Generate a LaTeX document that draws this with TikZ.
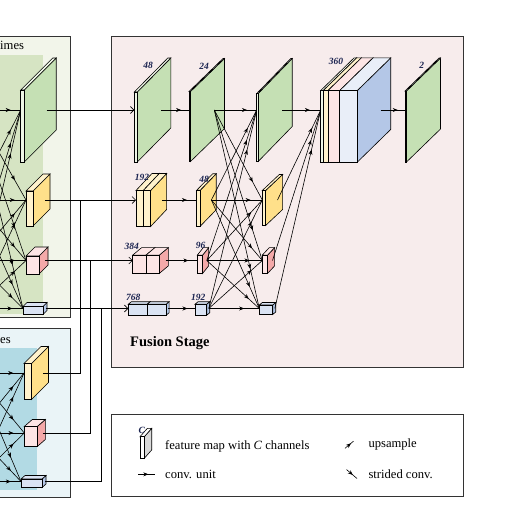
\documentclass[tikz,border=0pt]{standalone}
\usepackage{fontspec}
\setmainfont{Liberation Serif}
\usetikzlibrary{arrows.meta,decorations.markings}

\definecolor{fusebg}{HTML}{F7ECEC}
\definecolor{greenbg}{HTML}{F2F5EA}
\definecolor{greendk}{HTML}{D6E4C3}
\definecolor{bluebg}{HTML}{EAF4F7}
\definecolor{bluedk}{HTML}{B2DAE4}
\definecolor{gside}{HTML}{C5E0B4}
\definecolor{gfront}{HTML}{EEF5E6}
\definecolor{yside}{HTML}{FFE08A}
\definecolor{yfront}{HTML}{FFF2CC}
\definecolor{pside}{HTML}{F4A9A9}
\definecolor{pfront}{HTML}{FDE5E5}
\definecolor{bside}{HTML}{B4C7E7}
\definecolor{bfront}{HTML}{DAE3F3}
\definecolor{keyside}{HTML}{D9D9D9}
\definecolor{numcol}{HTML}{1A2350}
\definecolor{boxline}{HTML}{333333}

\tikzset{
  conn/.style={line width=0.6pt},
  midarr/.style={postaction={decorate},decoration={markings,
      mark=at position #1 with {\arrow{Stealth[length=5pt,width=4pt]}}}},
  midarr/.default=0.72,
  inarrow/.style={-{Straight Barb[length=3.5pt,width=7pt]}},
  chan/.style={font=\fontsize{9.5}{11}\selectfont\bfseries\itshape,text=numcol,inner sep=0pt},
  stagebox/.style={draw=boxline,line width=0.9pt},
  legtext/.style={font=\fontsize{12.6}{14}\selectfont,anchor=base west,inner sep=0pt}
}

% feature map: name, x, level, width, height, dx, dy, front, side
\newcommand{\fmap}[9]{%
  \begin{scope}[shift={(#2,#3)}]
    \pgfmathsetmacro\fmtop{-(#5-#7)/2}
    \filldraw[fill=#9,line width=0.6pt] (#4,\fmtop) -- ++(#6,-#7) -- ++(0,#5) -- ++(-#6,#7) -- cycle;
    \filldraw[fill=#8,line width=0.6pt] (0,\fmtop) -- ++(#6,-#7) -- ++(#4,0) -- ++(-#6,#7) -- cycle;
    \filldraw[fill=#8,line width=0.6pt] (0,\fmtop) rectangle ++(#4,#5);
    \coordinate (#1-in) at (0,0);
    \coordinate (#1-out) at ({#4+0.7*#6},0);
  \end{scope}}

\begin{document}
\begin{tikzpicture}[x=1pt,y=-1pt]
	\useasboundingbox (0,0) rectangle (508,506);
	\clip (0,0) rectangle (508,506);

	% stage boxes
	\filldraw[stagebox,fill=greenbg] (-5,36) rectangle (70,317);
	\fill[greendk] (-5,55) rectangle (43,314);
	\filldraw[stagebox,fill=bluebg] (-5,328) rectangle (70,497);
	\fill[bluedk] (-5,348) rectangle (37,490);
	\filldraw[stagebox,fill=fusebg] (111.5,36) rectangle (463.5,367);
	\filldraw[stagebox,fill=white] (111.5,414) rectangle (463,496);
	\node[legtext] (tl) at (0,49.5) {imes};
	\node[legtext] (bl) at (0,343.5) {es};
	\node[legtext,font=\fontsize{14.5}{16}\selectfont\bfseries] (fs) at (130,346) {Fusion Stage};

	% previous stage, four branches
	\fmap{lg}{20.7}{110}{3.5}{72}{32}{32}{gfront}{gside}
	\fmap{ly}{26}{200}{7}{35}{17}{17}{yfront}{yside}
	\fmap{lp}{26}{260.5}{13}{18}{9}{9}{pfront}{pside}
	\fmap{lb}{23}{308.5}{20}{8}{4}{4}{bfront}{bside}
	\coordinate (lsrc1) at (-25,110);
	\coordinate (lsrc2) at (-25,200);
	\coordinate (lsrc3) at (-25,260.5);
	\coordinate (lsrc4) at (-25,308.5);
	\foreach \s in {1,2,3,4}
	  \foreach \t in {lg,ly,lp,lb}
	    \draw[conn,midarr=0.78] (lsrc\s) -- (\t-in);

	% previous stage, three branches
	\fmap{by}{24}{373}{7.5}{36}{17}{17}{yfront}{yside}
	\fmap{bp}{24.3}{433}{13}{20}{8}{7}{pfront}{pside}
	\fmap{bb}{21}{481.5}{21}{8.5}{4}{3.5}{bfront}{bside}
	\coordinate (bsrc1) at (-25,373);
	\coordinate (bsrc2) at (-25,433);
	\coordinate (bsrc3) at (-25,481.5);
	\foreach \s in {1,2,3}
	  \foreach \t in {by,bp,bb}
	    \draw[conn,midarr=0.78] (bsrc\s) -- (\t-in);

	% fusion stage, first column
	\fmap{g1}{134.3}{110}{3}{70}{33.5}{34}{gfront}{gside}
	\fmap{y1a}{136}{200}{7.3}{36}{16}{17}{yfront}{yside}
	\fmap{y1b}{143.3}{200}{7.3}{36}{16}{17}{yfront}{yside}
	\fmap{p1a}{132.7}{260.5}{13.3}{18.3}{9}{7.5}{pfront}{pside}
	\fmap{p1b}{146}{260.5}{13.3}{18.3}{9}{7.5}{pfront}{pside}
	\fmap{b1a}{128.3}{308.5}{18.9}{11}{3}{2.5}{bfront}{bside}
	\fmap{b1b}{147.2}{308.5}{18.9}{11}{3}{2.5}{bfront}{bside}
	% second column
	\fmap{g2}{189}{110}{1.5}{70}{34}{33}{gfront}{gside}
	\fmap{y2}{196.7}{200}{3.5}{36}{16}{16.5}{yfront}{yside}
	\fmap{p2}{197.3}{260.5}{5.3}{18.3}{6}{7.5}{pfront}{pside}
	\fmap{b2}{195}{308.5}{11.7}{11}{3}{2.5}{bfront}{bside}
	% third column
	\fmap{g3}{256.7}{110}{1.5}{68}{34}{35}{gfront}{gside}
	\fmap{y3}{262.3}{200}{3.3}{35}{17}{16}{yfront}{yside}
	\fmap{p3}{262.3}{260.5}{5.3}{18.3}{7}{7.5}{pfront}{pside}
	\fmap{b3}{259.3}{308.5}{13.4}{9.5}{3}{2.5}{bfront}{bside}
	% concatenation and output
	\fmap{ca}{320.7}{110}{2.6}{71.6}{33.4}{32.7}{gfront}{gside}
	\fmap{cb}{323.3}{110}{4.7}{71.6}{33.4}{32.7}{yfront}{yside}
	\fmap{cc}{328}{110}{11.7}{71.6}{33.4}{32.7}{pfront}{pside}
	\fmap{cd}{339.7}{110}{17.6}{71.6}{33.4}{32.7}{bfront!60!white}{bside}
	\fmap{g4}{405}{110}{1.5}{71}{34}{33}{gfront}{gside}

	% channel numbers
	\node[chan] (n48a) at (148,65) {48};
	\node[chan] (n24) at (204,66) {24};
	\node[chan] (n360) at (336,61.5) {360};
	\node[chan] (n2) at (421.7,65) {2};
	\node[chan] (n192a) at (142,177) {192};
	\node[chan] (n48b) at (204,179) {48};
	\node[chan] (n384) at (131.7,246) {384};
	\node[chan] (n96) at (200.7,245) {96};
	\node[chan] (n768) at (133.3,297.3) {768};
	\node[chan] (n192b) at (198.3,297.3) {192};

	% into the fusion stage
	\coordinate (j1) at (80,200);
	\coordinate (j2) at (90.7,260.5);
	\coordinate (j3) at (101.5,308.5);
	\draw[conn,inarrow] (lg-out) -- (g1-in);
	\draw[conn,inarrow] (ly-out) -- (y1a-in);
	\draw[conn,inarrow] (lp-out) -- (p1a-in);
	\draw[conn,inarrow] (lb-out) -- (b1a-in);
	\draw[conn] (by-out) -| (j1);
	\draw[conn] (bp-out) -| (j2);
	\draw[conn] (bb-out) -| (j3);

	% conv. units
	\draw[conn,midarr] (g1-out) -- (g2-in);
	\draw[conn,midarr=0.77] (g2-out) -- (g3-in);
	\draw[conn,midarr] (y1b-out) -- (y2-in);
	\draw[conn,midarr=0.77] (y2-out) -- (y3-in);
	\draw[conn,midarr] (p1b-out) -- (p2-in);
	\draw[conn,midarr=0.77] (p2-out) -- (p3-in);
	\draw[conn,midarr] (b1b-out) -- (b2-in);
	\draw[conn,midarr=0.7] (b2-out) -- (b3-in);
	\draw[conn,midarr] (g3-out) -- (ca-in);
	\draw[conn,midarr=0.7] (cd-out) -- (g4-in);

	% exchange between branches
	\foreach \s/\i in {g2/1,y2/2,p2/3,b2/4}
	  \foreach \t/\j in {g3/1,y3/2,p3/3,b3/4}
	    {\ifnum\i=\j\relax\else\draw[conn,midarr=0.8] (\s-out) -- (\t-in);\fi}
	\foreach \s in {y3,p3,b3}
	  \draw[conn,midarr=0.8] (\s-out) -- (ca-in);

	% legend
	\fmap{key}{140}{443.3}{4.3}{21.6}{7.4}{8.4}{white}{keyside}
	\node[chan] (nc) at (141.7,430) {C};
	\node[legtext] (t1) at (165,449) {feature map with \textit{C} channels};
	\coordinate (k1a) at (138.3,474.3);
	\coordinate (k1b) at (155,474.3);
	\draw[conn,midarr=0.6] (k1a) -- (k1b);
	\node[legtext] (t2) at (165,478) {conv. unit};
	\coordinate (k2a) at (345,448.3);
	\coordinate (k2b) at (353.5,441.2);
	\draw[conn,midarr=0.7] (k2a) -- (k2b);
	\node[legtext] (t3) at (368.3,447) {upsample};
	\coordinate (k3a) at (346.5,469.5);
	\coordinate (k3b) at (357,478.5);
	\draw[conn,midarr=0.6] (k3a) -- (k3b);
	\node[legtext] (t4) at (368.3,478.5) {strided conv.};
\end{tikzpicture}
\end{document}
